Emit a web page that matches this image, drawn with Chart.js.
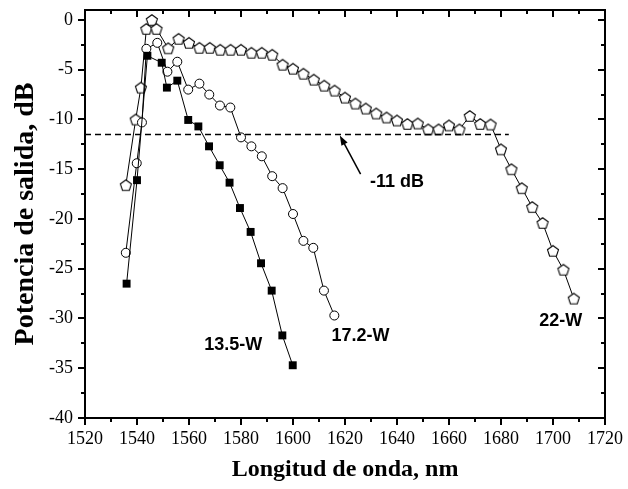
<!DOCTYPE html>
<html>
<head>
<meta charset="utf-8">
<script src="https://cdn.jsdelivr.net/npm/chart.js@4.4.0/dist/chart.umd.min.js"></script>
<style>
  html, body { margin: 0; padding: 0; background: #fff; }
  #chart { display: block; }
</style>
</head>
<body>
<canvas id="chart" width="628" height="489"></canvas>
<script>
// wavelengths (nm) and output power (dB)
const wl135 = [1536, 1540, 1544, 1549.5, 1551.5, 1555.5, 1559.7, 1563.6, 1567.7, 1571.8, 1575.6, 1579.6, 1583.7, 1587.7, 1591.8, 1595.9, 1599.9];
const pw135 = [-26.5, -16.1, -3.6, -4.3, -6.8, -6.1, -10.05, -10.7, -12.7, -14.6, -16.35, -18.9, -21.3, -24.45, -27.2, -31.7, -34.7];

const wl172 = [1535.7, 1539.9, 1541.9, 1543.6, 1547.8, 1551.7, 1555.5, 1559.7, 1564, 1567.8, 1571.9, 1575.9, 1580, 1584, 1588, 1592, 1596, 1600, 1604, 1607.8, 1611.9, 1615.9];
const pw172 = [-23.4, -14.4, -10.3, -2.9, -2.3, -5.2, -4.2, -7.0, -6.4, -7.5, -8.6, -8.8, -11.8, -12.7, -13.7, -15.7, -16.9, -19.5, -22.2, -22.9, -27.2, -29.7];

const wl22 = [1535.7, 1539.5, 1541.5, 1543.6, 1545.7, 1547.5,
  1552, 1556, 1560, 1564, 1568, 1572, 1576, 1580, 1584, 1588, 1592, 1596, 1600, 1604, 1608, 1612, 1616, 1620, 1624, 1628,
  1632, 1636, 1640, 1644, 1648, 1652, 1656, 1660, 1664, 1668, 1672, 1676, 1680, 1684, 1688, 1692, 1696, 1700, 1704, 1708];
const pw22 = [-16.6, -10.0, -6.8, -0.9, 0, -0.9,
  -2.85, -1.9, -2.3, -2.8, -2.8, -3.0, -3.0, -3.0, -3.3, -3.3, -3.5, -4.5, -4.9, -5.4, -6.0, -6.6, -7.1, -7.8, -8.4, -8.9,
  -9.4, -9.8, -10.1, -10.45, -10.4, -11.0, -11.0, -10.6, -11.0, -9.65, -10.45, -10.5, -13.0, -15.0, -16.9, -18.8, -20.4, -23.2, -25.1, -28.0];

// -11 dB reference line
const refX = [1520, 1683];
const refY = [-11.5, -11.5];

// tick labels
const xTicks = [1520, 1540, 1560, 1580, 1600, 1620, 1640, 1660, 1680, 1700, 1720];
const yTicks = [-40, -35, -30, -25, -20, -15, -10, -5, 0];

// text labels on the plot
const noteText = ['13.5-W', '17.2-W', '22-W', '-11 dB'];
const noteX = [1577, 1626, 1703, 1640];
const noteY = [-32.7, -31.8, -30.3, -16.3];
const arrowX = [1626, 1618];
const arrowY = [-15.5, -11.6];

const pairs = (xs, ys) => xs.map((x, i) => ({ x: x, y: ys[i] }));

function pentagon(r) {
  const c = document.createElement('canvas');
  const s = 14;
  c.width = s; c.height = s;
  const g = c.getContext('2d');
  g.beginPath();
  for (let i = 0; i < 5; i++) {
    const a = -Math.PI / 2 + i * 2 * Math.PI / 5;
    const px = s / 2 + r * Math.cos(a), py = s / 2 + r * Math.sin(a) + 0.6;
    if (i === 0) g.moveTo(px, py); else g.lineTo(px, py);
  }
  g.closePath();
  g.fillStyle = '#fff';
  g.fill();
  g.lineWidth = 1.1;
  g.strokeStyle = '#000';
  g.stroke();
  return c;
}

const framePlugin = {
  id: 'frame',
  afterDraw(chart) {
    const { ctx, chartArea: a, scales: { x, y } } = chart;
    ctx.save();
    ctx.strokeStyle = '#000';
    ctx.lineWidth = 2;
    ctx.strokeRect(a.left, a.top, a.right - a.left, a.bottom - a.top);
    ctx.beginPath();
    for (let v = 1520; v <= 1720; v += 10) {
      const px = Math.round(x.getPixelForValue(v));
      const len = v % 20 === 0 ? 7 : 4;
      ctx.moveTo(px, a.bottom); ctx.lineTo(px, a.bottom + len);
      ctx.moveTo(px, a.top); ctx.lineTo(px, a.top + len);
    }
    for (let v = -40; v <= 0; v += 2.5) {
      const py = Math.round(y.getPixelForValue(v));
      const len = v % 5 === 0 ? 7 : 4;
      ctx.moveTo(a.left, py); ctx.lineTo(a.left - len, py);
      ctx.moveTo(a.right, py); ctx.lineTo(a.right - len, py);
    }
    ctx.stroke();

    // labels
    ctx.fillStyle = '#000';
    ctx.font = 'bold 18px "Liberation Sans", Arial, sans-serif';
    ctx.textAlign = 'center';
    ctx.textBaseline = 'middle';
    noteText.forEach((t, i) => {
      ctx.fillText(t, x.getPixelForValue(noteX[i]), y.getPixelForValue(noteY[i]));
    });

    // arrow
    const x0 = x.getPixelForValue(arrowX[0]), y0 = y.getPixelForValue(arrowY[0]);
    const x1 = x.getPixelForValue(arrowX[1]), y1 = y.getPixelForValue(arrowY[1]);
    const ang = Math.atan2(y1 - y0, x1 - x0);
    ctx.lineWidth = 1.5;
    ctx.beginPath();
    ctx.moveTo(x0, y0);
    ctx.lineTo(x1 - 6 * Math.cos(ang), y1 - 6 * Math.sin(ang));
    ctx.stroke();
    ctx.beginPath();
    ctx.moveTo(x1, y1);
    ctx.lineTo(x1 - 10 * Math.cos(ang) + 3.5 * Math.sin(ang), y1 - 10 * Math.sin(ang) - 3.5 * Math.cos(ang));
    ctx.lineTo(x1 - 10 * Math.cos(ang) - 3.5 * Math.sin(ang), y1 - 10 * Math.sin(ang) + 3.5 * Math.cos(ang));
    ctx.closePath();
    ctx.fill();
    ctx.restore();
  }
};

const serif = '"Liberation Serif", "Times New Roman", serif';

new Chart(document.getElementById('chart'), {
  type: 'scatter',
  data: {
    datasets: [
      {
        label: '-11 dB',
        data: pairs(refX, refY),
        showLine: true,
        borderColor: '#000',
        borderWidth: 1.5,
        borderDash: [6, 4],
        pointRadius: 0
      },
      {
        label: '13.5-W',
        data: pairs(wl135, pw135),
        showLine: true,
        borderColor: '#000',
        borderWidth: 1,
        pointStyle: 'rect',
        pointRadius: 5.6,
        pointBackgroundColor: '#000',
        pointBorderColor: '#000',
        pointBorderWidth: 0
      },
      {
        label: '17.2-W',
        data: pairs(wl172, pw172),
        showLine: true,
        borderColor: '#000',
        borderWidth: 1,
        pointStyle: 'circle',
        pointRadius: 4.5,
        pointBackgroundColor: '#fff',
        pointBorderColor: '#000',
        pointBorderWidth: 1
      },
      {
        label: '22-W',
        data: pairs(wl22, pw22),
        showLine: true,
        borderColor: '#000',
        borderWidth: 1,
        pointStyle: pentagon(5.8),
        pointRadius: 5.8
      }
    ]
  },
  options: {
    responsive: false,
    animation: false,
    events: [],
    layout: { padding: { top: 10, right: 23, left: 0, bottom: 0 } },
    plugins: { legend: { display: false }, tooltip: { enabled: false } },
    scales: {
      x: {
        type: 'linear',
        min: 1520,
        max: 1720,
        afterBuildTicks: s => { s.ticks = xTicks.map(v => ({ value: v })); },
        afterFit: s => { s.height = 71; s.paddingLeft = 0; s.paddingRight = 0; },
        grid: { display: false, drawTicks: false },
        border: { display: false },
        ticks: {
          color: '#000', padding: 10, maxRotation: 0, autoSkip: false,
          font: { family: serif, size: 18 },
          callback: v => String(v)
        },
        title: {
          display: true,
          text: 'Longitud de onda, nm',
          color: '#000',
          font: { family: serif, size: 24, weight: 'bold' },
          padding: { top: 0, bottom: 5 }
        }
      },
      y: {
        type: 'linear',
        min: -40,
        max: 1,
        afterBuildTicks: s => { s.ticks = yTicks.map(v => ({ value: v })); },
        afterFit: s => { s.width = 85; s.paddingTop = 0; s.paddingBottom = 0; },
        grid: { display: false, drawTicks: false },
        border: { display: false },
        ticks: {
          color: '#000', padding: 12, autoSkip: false,
          font: { family: serif, size: 18 },
          callback: v => String(v)
        },
        title: {
          display: true,
          text: 'Potencia de salida, dB',
          color: '#000',
          font: { family: serif, size: 28, weight: 'bold' },
          padding: { top: 9, bottom: 0 }
        }
      }
    }
  },
  plugins: [framePlugin]
});
</script>
</body>
</html>
